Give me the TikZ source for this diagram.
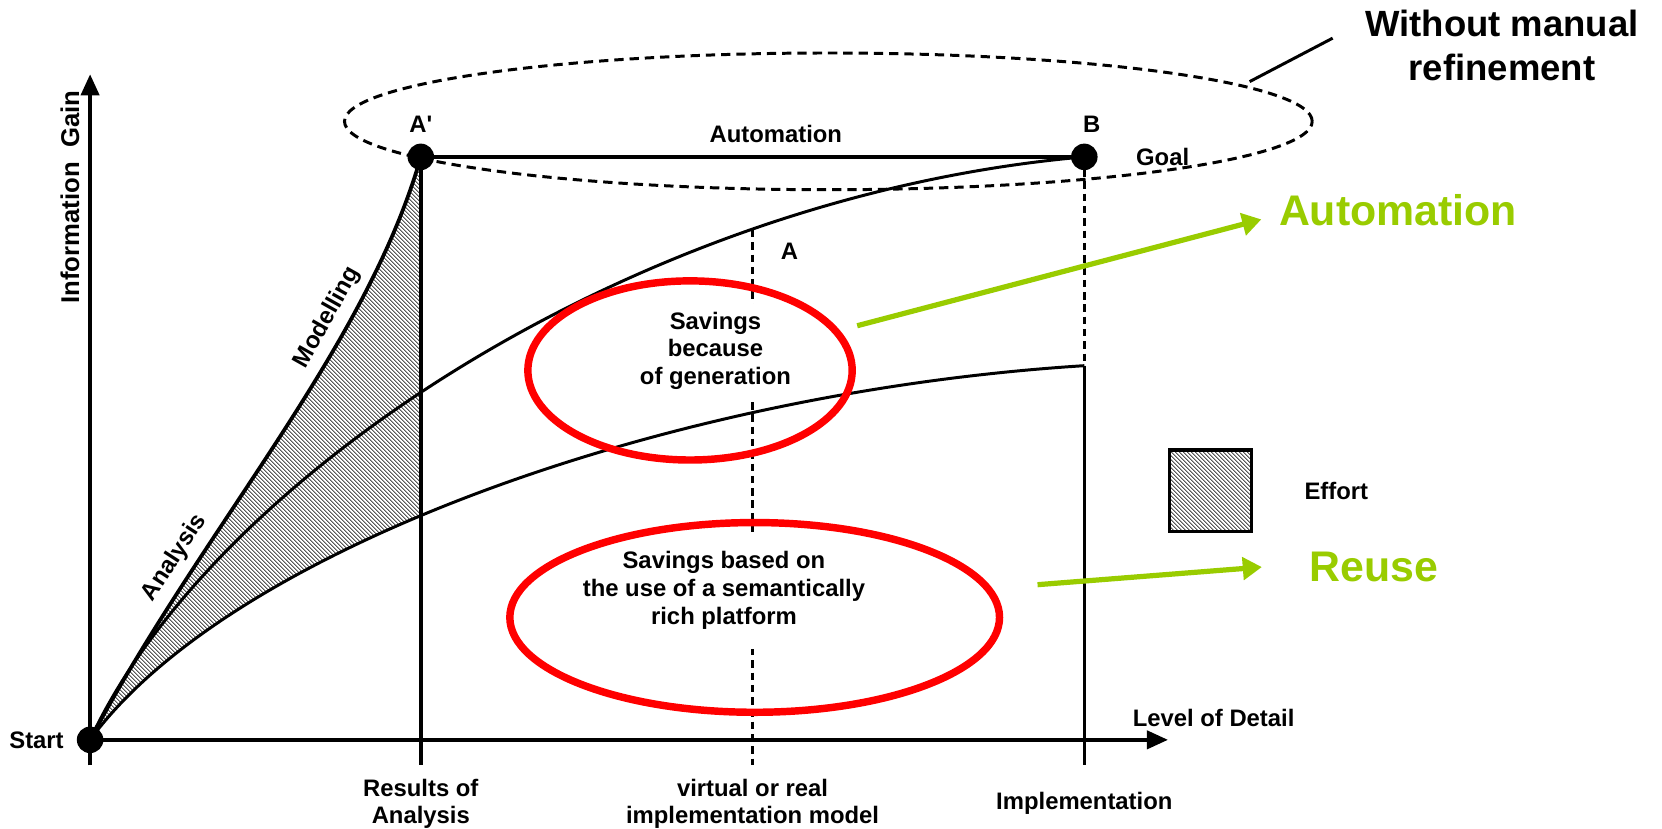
\documentclass[tikz,border=0pt]{standalone}
\usepackage{fontspec}
\setmainfont{Liberation Sans}
\usetikzlibrary{positioning,shapes.geometric,arrows.meta,patterns.meta}
\definecolor{autogreen}{RGB}{153,204,0}
\tikzset{
	axis/.style={line width=1.1pt, -{Triangle[length=2mm,width=1.7mm]}},
	curve/.style={line width=0.8pt},
	dashv/.style={line width=0.8pt, dash pattern=on 2pt off 1.3pt},
	dot/.style={circle,fill=black,inner sep=0,minimum size=2.5mm},
	lbl/.style={font=\bfseries\fontsize{6.4}{7.5}\selectfont, align=center, inner sep=0},
	savetext/.style={lbl, fill=white, inner xsep=0.5mm},
	saving/.style={ellipse, draw=red, line width=2pt, inner sep=0},
	effort/.style={pattern={Lines[angle=-45,distance=0.9pt,line width=0.25pt]}},
	greenarr/.style={autogreen, line width=1.4pt, -{Triangle[length=1.8mm,width=2.1mm]}},
	greenlbl/.style={text=autogreen, font=\bfseries\fontsize{11.5}{14}\selectfont, inner sep=0, anchor=west}
}

\begin{document}
\begin{tikzpicture}[x=0.1mm,y=-0.1mm]
	\useasboundingbox (0,0) rectangle (1568,782);
	%%% points of the diagram
	\coordinate (S) at (85,698);
	\coordinate (Ap) at (397,148);
	\coordinate (B) at (1023,148);
	\coordinate (lowend) at (1023,345);
	\coordinate (pA) at (710,217);
	\coordinate (ybot) at (85,722);
	\coordinate (ytip) at (85,70);
	\coordinate (xtip) at (1102,698);
	\coordinate (resBot) at (397,722);
	\coordinate (virtBot) at (710,722);
	\coordinate (implBot) at (1023,722);
	
	%%% effort area
	\begin{scope}
		\clip (0,0) rectangle (397,782);
		\path[effort] (S) .. controls (190,500) and (345,330) .. (Ap) -- (B) -- (lowend) .. controls (625,370) and (215,520) .. (S) -- cycle;
	\end{scope}
	
	%%% curves
	\draw[curve, line width=1pt] (S) .. controls (190,500) and (345,330) .. (Ap)
		node[lbl,pos=0.28,sloped,above=0.8mm] {Analysis}
		node[lbl,pos=0.7,sloped,above=0.8mm] {Modelling};
	\draw[curve] (S) .. controls (200,450) and (600,185) .. (B);
	\draw[curve] (S) .. controls (215,520) and (625,370) .. (lowend);
	\draw[line width=1.1pt] (Ap) -- node[lbl,pos=0.535,above=1.1mm] {Automation} (B);
	
	%%% verticals
	\draw[line width=1.1pt] (Ap) -- (resBot);
	\draw[dashv] (pA) -- (virtBot);
	\draw[dashv] (B) -- (lowend);
	\draw[line width=0.9pt] (lowend) -- (implBot);
	
	%%% savings
	\node[savetext, inner ysep=0.7mm] (gentext) at (675,331) {Savings\\because\\of generation};
	\node[saving, minimum width=30.6mm, minimum height=16.9mm] (sav1) at (651,349.5) {};
	\node[savetext, inner ysep=1.8mm] (platext) at (683,557) {Savings based on\\the use of a semantically\\rich platform};
	\node[saving, minimum width=46.2mm, minimum height=17.9mm] (sav2) at (712,582.5) {};
	
	%%% axes
	\draw[axis] (ybot) -- (ytip);
	\draw[axis] (S) -- (xtip);
	\node[lbl, rotate=90, font=\bfseries\fontsize{6.9}{8}\selectfont] (ylbl) at (66,186) {Information~~Gain};
	\node[lbl, above=1.2mm of xtip, xshift=4.3mm] (xlbl) {Level of Detail};
	\node[lbl, below=1.2mm of resBot] (reslbl) {Results of\\Analysis};
	\node[lbl, below=1.2mm of virtBot] (virtlbl) {virtual or real\\implementation model};
	\node[lbl, below=2.5mm of implBot] (impllbl) {Implementation};
	
	%%% points
	\node[dot] (start) at (S) {};
	\node[dot, label={[lbl,label distance=0.9mm]above:A\textquotesingle}] (aprime) at (Ap) {};
	\node[dot, label={[lbl,label distance=0.9mm,xshift=0.7mm]above:B}] (b) at (B) {};
	\node[lbl, left=1.1mm of start] (startlbl) {Start};
	\node[lbl, right=3.5mm of b] (goal) {Goal};
	\node[lbl, below right=1.2mm and 2.6mm of pA] (alabel) {A};
	
	%%% without manual refinement
	\node[ellipse, draw, line width=0.8pt, dash pattern=on 2.5pt off 1.6pt, minimum width=91.3mm, minimum height=12.9mm, inner sep=0] (refine) at (781.5,114.5) {};
	\node[font=\bfseries\fontsize{9.8}{12}\selectfont, align=center, inner sep=0] (wmr) at (1417,43) {Without manual\\refinement};
	\draw[line width=0.8pt, shorten <=0.7mm] (refine.5) -- ([xshift=-3mm,yshift=0.7mm]wmr.west);
	
	%%% legend
	\node[draw, line width=0.9pt, effort, minimum size=7.7mm, inner sep=0] (effbox) at (1142,463) {};
	\node[lbl, right=4.8mm of effbox] (efflbl) {Effort};
	
	%%% green arrows
	\node[greenlbl] (autolbl) at (1206,198) {Automation};
	\node[greenlbl] (reuselbl) at (1234.5,535) {Reuse};
	\draw[greenarr, shorten <=1.7mm] (sav1.15) -- ([xshift=-1.6mm,yshift=-0.9mm]autolbl.west);
	\draw[greenarr, shorten <=4.3mm] (sav2.7) -- ([xshift=-4.4mm]reuselbl.west);
\end{tikzpicture}
\end{document}
